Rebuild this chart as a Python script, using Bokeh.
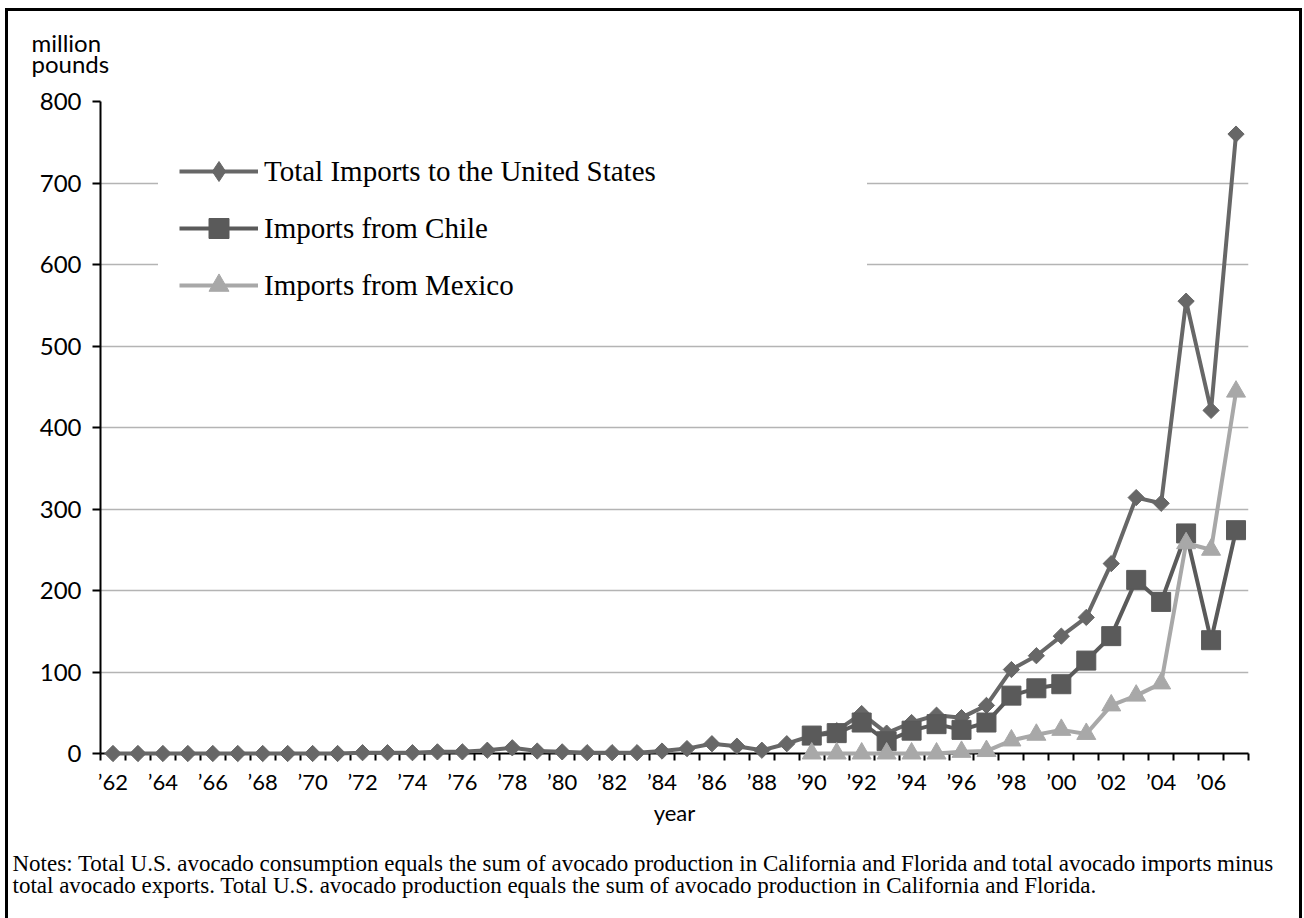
import math
from bokeh.plotting import figure
from bokeh.models import (Range1d, LinearAxis, FixedTicker, Legend, LegendItem,
                          Title, Grid, ColumnDataSource)
from bokeh.embed import file_html
from bokeh.resources import INLINE

# ---------------- data ----------------
years = list(range(1962, 2008))
total_imports = [0, 0, 0, 0, 0, 0, 0, 0, 0, 0,
                 1, 1, 1, 2, 2, 4, 7, 3, 2, 1, 1, 1, 3, 6, 12, 9, 4, 12,
                 22, 28, 49, 25, 38, 47, 44, 59, 103, 120, 144, 167, 233, 314, 307, 555, 421, 760]
partner_years = list(range(1990, 2008))
chile_imports = [22, 25, 38, 15, 28, 36, 29, 38, 71, 80, 85, 114, 144, 213, 186, 270, 139, 274]
mexico_imports = [0, 0, 0, 0, 0, 0, 2, 3, 16, 23, 29, 24, 59, 71, 86, 258, 250, 444]

y_ticks = [0, 100, 200, 300, 400, 500, 600, 700, 800]
label_years = list(range(1962, 2007, 2))
label_texts = ["\u2019" + str(y)[2:] for y in label_years]

series_names = ["Total Imports to the United States", "Imports from Chile", "Imports from Mexico"]
y_title = "million\npounds"
x_title = "year"
notes_text = ("Notes: Total U.S. avocado consumption equals the sum of avocado production in "
              "California and Florida and total avocado imports minus\n"
              "total avocado exports. Total U.S. avocado production equals the sum of avocado "
              "production in California and Florida.")

# ---------------- styles ----------------
SANS = "Lato"
SERIF = "Liberation Serif"
C_TOTAL = "#676767"
C_CHILE = "#5a5a5a"
C_MEXICO = "#a8a8a8"

p = figure(width=1304, height=918, output_backend="svg", toolbar_location=None,
           x_range=Range1d(1961.5, 2007.5), y_range=Range1d(0, 800),
           x_axis_type=None, y_axis_type=None,
           min_border_left=100, min_border_right=56, min_border_top=101, min_border_bottom=165)
p.outline_line_color = None
p.background_fill_color = "white"
p.border_fill_color = None
p.styles = {
    "background": ("linear-gradient(#000,#000) 5px 9px / 3px 1000px no-repeat, "
                   "linear-gradient(#000,#000) 1299px 9px / 3px 1000px no-repeat, "
                   "linear-gradient(#000,#000) 5px 8px / 1297px 3px no-repeat, #ffffff"),
}

# y axis
yaxis = LinearAxis(ticker=FixedTicker(ticks=y_ticks),
                   axis_line_color="black", axis_line_width=2,
                   major_tick_line_color="black", major_tick_line_width=2,
                   major_tick_out=8, major_tick_in=0, minor_tick_line_color=None,
                   major_label_standoff=11, major_label_text_font=SANS,
                   major_label_text_font_size="24px", major_label_text_color="black")
p.add_layout(yaxis, "left")
p.add_layout(Grid(dimension=1, ticker=yaxis.ticker, grid_line_color="#b4b4b4", grid_line_width=1.5))

# x axis: labels every other year, small ticks at year boundaries
boundaries = [y - 0.5 for y in years] + [years[-1] + 0.5]
xaxis = LinearAxis(ticker=FixedTicker(ticks=label_years, minor_ticks=boundaries),
                   major_label_overrides={y: t for y, t in zip(label_years, label_texts)},
                   axis_line_color="black", axis_line_width=2,
                   major_tick_line_color=None, major_tick_out=0, major_tick_in=0,
                   minor_tick_line_color="black", minor_tick_line_width=2,
                   minor_tick_out=7, minor_tick_in=0,
                   major_label_standoff=7, major_label_text_font=SANS,
                   major_label_text_font_size="22px", major_label_text_color="black",
                   axis_label=x_title, axis_label_text_font=SANS,
                   axis_label_text_font_size="22px", axis_label_text_font_style="normal",
                   axis_label_text_color="black", axis_label_standoff=1)
p.add_layout(xaxis, "below")

# titles outside the frame
p.add_layout(Title(text=notes_text, align="left", offset=-88, text_font=SERIF,
                   text_font_size="23px", text_font_style="normal", text_color="black",
                   text_line_height=0.85, standoff=42), "below")
p.add_layout(Title(text=y_title, align="left", offset=-69, text_font=SANS,
                   text_font_size="24px", text_font_style="normal", text_color="black",
                   text_line_height=0.74, standoff=46), "above")

# series
src_total = ColumnDataSource(dict(x=years, y=total_imports))
src_chile = ColumnDataSource(dict(x=partner_years, y=chile_imports))
src_mexico = ColumnDataSource(dict(x=partner_years, y=mexico_imports))

l1 = p.line("x", "y", source=src_total, line_color=C_TOTAL, line_width=4, level="overlay")
s1 = p.scatter("x", "y", source=src_total, marker="square", angle=math.pi / 4, size=11.5,
               fill_color=C_TOTAL, line_color=C_TOTAL, level="overlay")
l2 = p.line("x", "y", source=src_chile, line_color=C_CHILE, line_width=4, level="overlay")
s2 = p.scatter("x", "y", source=src_chile, marker="square", size=19,
               fill_color=C_CHILE, line_color=C_CHILE, level="overlay")
l3 = p.line("x", "y", source=src_mexico, line_color=C_MEXICO, line_width=4, level="overlay")
s3 = p.scatter("x", "y", source=src_mexico, marker="triangle", size=19,
               fill_color=C_MEXICO, line_color=C_MEXICO, level="overlay")

# legend symbol for the total series (diamond, drawn at zero size on the chart)
legend_diamond = p.scatter("x", "y", source=src_total, marker="diamond", size=0,
                           fill_color=C_TOTAL, line_color=C_TOTAL)

legend = Legend(items=[LegendItem(label=series_names[0], renderers=[l1, legend_diamond]),
                       LegendItem(label=series_names[1], renderers=[l2, s2]),
                       LegendItem(label=series_names[2], renderers=[l3, s3])],
                location=(58, 422), glyph_width=79, glyph_height=50, label_height=50,
                label_width=582, label_standoff=6, spacing=7, padding=20, margin=0,
                border_line_color="white", border_line_width=1,
                background_fill_color="white", background_fill_alpha=1,
                label_text_font=SERIF, label_text_font_size="29px", label_text_color="black")
p.add_layout(legend)

open("out.html", "w").write(file_html(p, INLINE))
